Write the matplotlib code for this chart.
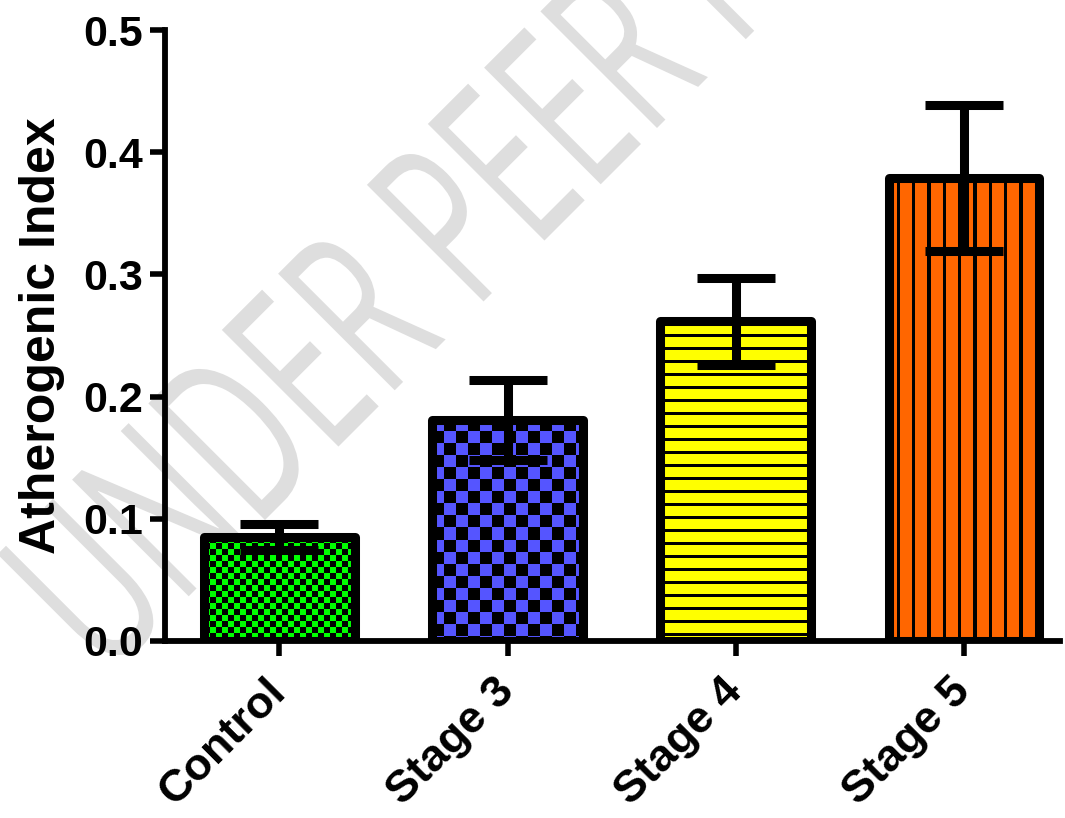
import numpy as np
import matplotlib
matplotlib.use('Agg')
import matplotlib.pyplot as plt
import matplotlib.transforms as mtransforms
from matplotlib.textpath import TextPath
from matplotlib.patches import PathPatch
from matplotlib.font_manager import FontProperties

plt.rcParams['font.family'] = ['Liberation Sans', 'DejaVu Sans']
plt.rcParams['font.weight'] = 'bold'

groups = ['Control', 'Stage 3', 'Stage 4', 'Stage 5']
means = [0.085, 0.181, 0.2615, 0.3786]
errors = [0.0105, 0.0325, 0.0355, 0.0598]
yticks = [0.0, 0.1, 0.2, 0.3, 0.4, 0.5]
ylabel = 'Atherogenic Index'

# fill colour + pattern kind + pattern size (px)
fills = [('#00ff00', 'checker', 6), ('#5555ff', 'checker', 12),
         ('#ffff00', 'hlines', 13), ('#ff6600', 'vlines', 15.3)]

fig = plt.figure(figsize=(10.65, 8.18), dpi=100)
ax = fig.add_axes([0.155, 0.2164, 0.8403, 0.7469])
ax.set_facecolor('none')

x = np.arange(len(groups))
w = 0.66
bars = ax.bar(x, means, width=w, facecolor='none', edgecolor='black',
              linewidth=6.5, zorder=3)
for b in bars:
    b.set_joinstyle('round')
ax.errorbar(x, means, yerr=errors, fmt='none', ecolor='black', elinewidth=6.5,
            capsize=28, capthick=6.5, zorder=4)

ax.set_xlim(-0.5, 3.42)
ax.set_ylim(0, 0.5)


def pattern(nx, ny, color, kind, s):
    rgb = np.array(matplotlib.colors.to_rgb(color))
    iy, ix = np.mgrid[0:ny, 0:nx]
    if kind == 'checker':
        mask = ((ix // s + iy // s) % 2) == 0
    elif kind == 'hlines':
        mask = (iy % s) >= 3
    else:
        mask = ((ix + 8) % s) >= 3.3
    img = np.zeros((ny, nx, 3))
    img[mask] = rgb
    return img


for b, xi, v, (col, kind, s) in zip(bars, x, means, fills):
    p0 = ax.transData.transform((xi - w / 2, 0))
    p1 = ax.transData.transform((xi + w / 2, v))
    nx = int(round(p1[0] - p0[0]))
    ny = int(round(p1[1] - p0[1]))
    im = ax.imshow(pattern(nx, ny, col, kind, s), extent=(xi - w / 2, xi + w / 2, 0, v),
                   aspect='auto', interpolation='nearest', zorder=2)
    im.set_clip_path(b)

ax.set_xlim(-0.5, 3.42)
ax.set_ylim(0, 0.5)

for side in ['top', 'right']:
    ax.spines[side].set_visible(False)
for side in ['left', 'bottom']:
    ax.spines[side].set_linewidth(4.2)

ax.set_yticks(yticks)
ax.set_yticklabels(['%.1f' % t for t in yticks])
ax.set_xticks(x)
ax.set_xticklabels(groups, rotation=45, ha='right', va='center',
                   rotation_mode='anchor')
ax.tick_params(axis='y', length=11, width=4, pad=5, labelsize=31)
ax.tick_params(axis='x', length=11, width=4, pad=21, labelsize=32.5)
ax.set_ylabel(ylabel, fontsize=36, fontweight='bold', labelpad=13)

# watermark
fp = FontProperties(family='Open Sans', weight='normal')
tp = TextPath((0, 0), 'UNDER PEER REVIEW', size=231, prop=fp)
tr = mtransforms.Affine2D().scale(0.62, 1.0).rotate_deg(45).translate(105, 138)
wm = PathPatch(tr.transform_path(tp), facecolor='#dedede', edgecolor='none',
               transform=mtransforms.IdentityTransform(), zorder=-1)
fig.add_artist(wm)

fig.savefig('out.png', dpi=100)
